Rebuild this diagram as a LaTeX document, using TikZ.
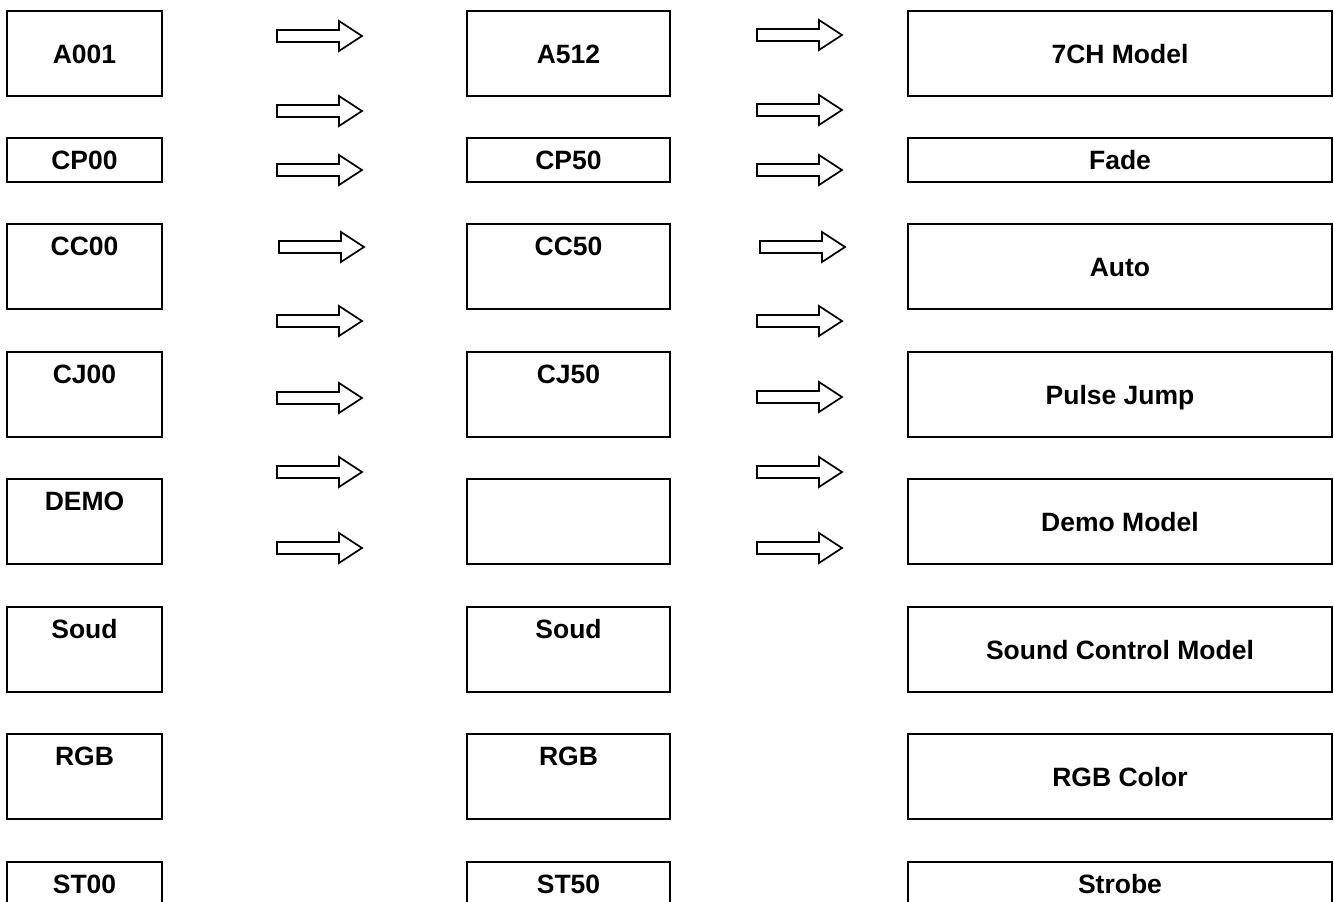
\documentclass[tikz,border=0pt]{standalone}
\usepackage{fontspec}
\setmainfont{Liberation Sans}
\begin{document}
\begin{tikzpicture}[x=1pt,y=-1pt,
 box/.style={draw,line width=1.3pt,inner sep=0pt,font=\fontsize{26.5}{30}\selectfont\bfseries},
 midbox/.style={box,text height=19pt,text depth=0pt},
 topbox/.style={box,text height=31.5pt,text depth=53.5pt,minimum height=85pt},
 arr/.style={line width=1.7pt,line join=miter}]
\useasboundingbox (0,0) rectangle (1334,902);
\pgfmathsetmacro{\xl}{84.5}
\pgfmathsetmacro{\xm}{568.5}
\pgfmathsetmacro{\xr}{1120}
\node[midbox,minimum width=155pt,minimum height=85pt](a0) at (\xl,53.5){A001};
\node[midbox,minimum width=155pt,minimum height=44pt](cp0) at (\xl,160){CP00};
\foreach \n/\cy/\t in {cc0/266.5/CC00,cj0/394.5/CJ00,demo0/521.5/DEMO,soud0/649.5/Soud,rgb0/776.5/RGB,st0/904.5/ST00}{\node[topbox,minimum width=155pt](\n) at (\xl,\cy){\t};}
\node[midbox,minimum width=203pt,minimum height=85pt](a5) at (\xm,53.5){A512};
\node[midbox,minimum width=203pt,minimum height=44pt](cp5) at (\xm,160){CP50};
\foreach \n/\cy/\t in {cc5/266.5/CC50,cj5/394.5/CJ50,demo5/521.5/,soud5/649.5/Soud,rgb5/776.5/RGB,st5/904.5/ST50}{\node[topbox,minimum width=203pt](\n) at (\xm,\cy){\t};}
\foreach \n/\cy/\t in {mch/53.5/7CH Model,auto/266.5/Auto,pulse/394.5/Pulse Jump,demom/521.5/Demo Model,sound/649.5/Sound Control Model,rgbc/776.5/RGB Color}{\node[midbox,minimum width=424pt,minimum height=85pt](\n) at (\xr,\cy){\t};}
\node[midbox,minimum width=424pt,minimum height=44pt](fade) at (\xr,160){Fade};
\node[topbox,minimum width=424pt](strobe) at (\xr,904.5){Strobe};
\foreach \ax/\ay in {277/36,277/111,277/170,279/247,277/321,277/398,277/472,277/548,757/35,757/110,757/170,760/247,757/321,757/397,757/472,757/548}{\draw[arr](\ax,\ay-6)--++(62,0)--++(0,-9)--++(23,15)--++(-23,15)--++(0,-9)--++(-62,0)--cycle;}
\end{tikzpicture}
\end{document}
